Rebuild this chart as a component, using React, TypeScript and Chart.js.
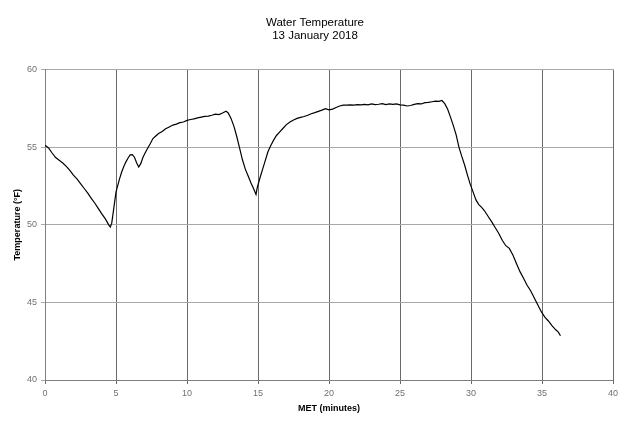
import React, { FC, useEffect, useRef } from "react";
import Chart from "chart.js/auto";

// Mission elapsed time (minutes) and water temperature (°F)
const met = [
  0, 0.25, 0.5, 0.75, 1.0, 1.25, 1.5, 1.75, 2.0, 2.25, 2.5, 2.75, 3.0, 3.25, 3.5, 3.75,
  4.0, 4.25, 4.5, 4.6, 4.7, 4.85, 5.0, 5.1, 5.25, 5.4, 5.55, 5.7, 5.85, 6.0, 6.15, 6.3,
  6.45, 6.6, 6.75, 6.9, 7.05, 7.2, 7.4, 7.6, 7.8, 8.0, 8.25, 8.5, 8.75, 9.0, 9.25, 9.5,
  9.75, 10.0, 10.25, 10.5, 10.75, 11.0, 11.25, 11.5, 11.75, 12.0, 12.25, 12.5, 12.75, 12.9,
  13.1, 13.3, 13.5, 13.7, 13.9, 14.1, 14.3, 14.5, 14.7, 14.86, 14.95, 15.1, 15.3, 15.5,
  15.7, 15.9, 16.1, 16.3, 16.5, 16.75, 17.0, 17.25, 17.5, 17.75, 18.0, 18.25, 18.5, 18.75,
  19.0, 19.25, 19.5, 19.75, 20.0, 20.25, 20.5, 20.75, 21.0, 21.25, 21.5, 21.75, 22.0, 22.25,
  22.5, 22.75, 23.0, 23.25, 23.5, 23.75, 24.0, 24.25, 24.5, 24.75, 25.0, 25.25, 25.5, 25.75,
  26.0, 26.25, 26.5, 26.75, 27.0, 27.25, 27.5, 27.75, 27.95, 28.15, 28.35, 28.55, 28.75,
  28.95, 29.15, 29.35, 29.55, 29.75, 29.95, 30.15, 30.35, 30.55, 30.75, 30.95, 31.2, 31.45,
  31.7, 31.95, 32.2, 32.45, 32.7, 32.95, 33.2, 33.45, 33.7, 33.95, 34.2, 34.45, 34.7, 34.95,
  35.2, 35.45, 35.7, 35.95, 36.15, 36.3,
];

const temp = [
  55.12, 54.95, 54.62, 54.33, 54.15, 53.98, 53.76, 53.5, 53.2, 52.95, 52.65, 52.35, 52.05, 51.72, 51.4, 51.05,
  50.7, 50.38, 49.98, 49.85, 50.1, 51.1, 52.1, 52.45, 52.95, 53.4, 53.75, 54.05, 54.3, 54.5, 54.52, 54.35,
  54.0, 53.72, 53.95, 54.35, 54.62, 54.88, 55.2, 55.55, 55.72, 55.88, 56.0, 56.18, 56.3, 56.42, 56.48, 56.58,
  56.62, 56.72, 56.78, 56.82, 56.88, 56.93, 56.98, 57.0, 57.05, 57.12, 57.1, 57.2, 57.32, 57.2,
  56.85, 56.35, 55.7, 54.95, 54.2, 53.6, 53.15, 52.7, 52.3, 51.95, 52.4, 52.9, 53.5, 54.1,
  54.7, 55.1, 55.45, 55.75, 55.95, 56.2, 56.45, 56.62, 56.75, 56.85, 56.92, 56.97, 57.05, 57.15,
  57.22, 57.3, 57.38, 57.48, 57.4, 57.45, 57.55, 57.65, 57.7, 57.7, 57.72, 57.7, 57.74, 57.72,
  57.75, 57.72, 57.78, 57.74, 57.76, 57.8, 57.74, 57.78, 57.75, 57.78, 57.72, 57.7, 57.65, 57.68,
  57.75, 57.8, 57.78, 57.86, 57.88, 57.92, 57.96, 57.95, 58.0, 57.8, 57.45, 56.95, 56.4,
  55.8, 55.0, 54.4, 53.85, 53.2, 52.6, 52.1, 51.6, 51.3, 51.12, 50.9, 50.55, 50.2,
  49.82, 49.45, 49.0, 48.65, 48.48, 48.05, 47.5, 46.98, 46.55, 46.1, 45.75, 45.3, 44.85, 44.4,
  44.05, 43.8, 43.5, 43.25, 43.08, 42.85,
];

const titleLines = ["Water Temperature", "13 January 2018"];

const WaterTempChart: FC = () => {
  const chartRef = useRef<HTMLCanvasElement>(null);

  useEffect(() => {
    if (!chartRef.current) return;
    const ctx = chartRef.current.getContext("2d");
    if (!ctx) return;

    const font = "'Liberation Sans', Arial, sans-serif";

    const chart = new Chart(ctx, {
      type: "scatter",
      data: {
        datasets: [
          {
            label: "Water Temperature",
            data: met.map((m, i) => ({ x: m, y: temp[i] })),
            showLine: true,
            borderColor: "#000000",
            borderWidth: 1.2,
            pointRadius: 0,
            tension: 0,
          },
        ],
      },
      options: {
        responsive: false,
        animation: false,
        layout: { padding: { top: 0, right: 10, bottom: 0, left: 0 } },
        plugins: {
          legend: { display: false },
          tooltip: { enabled: false },
          title: {
            display: true,
            text: titleLines,
            color: "#000000",
            font: { family: font, size: 11.5, weight: "normal", lineHeight: 1.13 },
            padding: { top: 16, bottom: 27.5 },
          },
        },
        scales: {
          x: {
            type: "linear",
            min: 0,
            max: 40,
            ticks: { stepSize: 5, color: "#707070", font: { family: font, size: 9 }, padding: 4 },
            grid: { color: "#6a6a6a", tickLength: 4, lineWidth: 1 },
            border: { color: "#808080" },
            title: {
              display: true,
              text: "MET (minutes)",
              color: "#000000",
              font: { family: font, size: 9, weight: "bold" },
              padding: { top: 0, bottom: 13.6 },
            },
            afterFit: (scale: any) => {
              scale.height = 48;
            },
          },
          y: {
            type: "linear",
            min: 40,
            max: 60,
            ticks: { stepSize: 5, color: "#707070", font: { family: font, size: 9 }, padding: 4 },
            grid: { color: "#a8a8a8", tickLength: 4, lineWidth: 1 },
            border: { color: "#808080" },
            title: {
              display: true,
              text: "Temperature (°F)",
              color: "#000000",
              font: { family: font, size: 9, weight: "bold" },
              padding: { top: 12.6, bottom: 0 },
            },
            afterFit: (scale: any) => {
              scale.width = 45;
            },
          },
          // empty right-hand axis that only reserves margin
          yRight: {
            type: "linear",
            position: "right",
            display: true,
            ticks: { display: false },
            grid: { display: false },
            border: { display: false },
            afterFit: (scale: any) => {
              scale.width = 17;
            },
          },
        },
      },
    });

    return () => {
      chart.destroy();
    };
  }, []);

  return (
    <div style={{ position: "fixed", left: 0, top: 0, width: "640px", height: "428px", background: "#ffffff" }}>
      <canvas ref={chartRef} width={640} height={428}></canvas>
    </div>
  );
};

export default function App() {
  return <WaterTempChart />;
}
